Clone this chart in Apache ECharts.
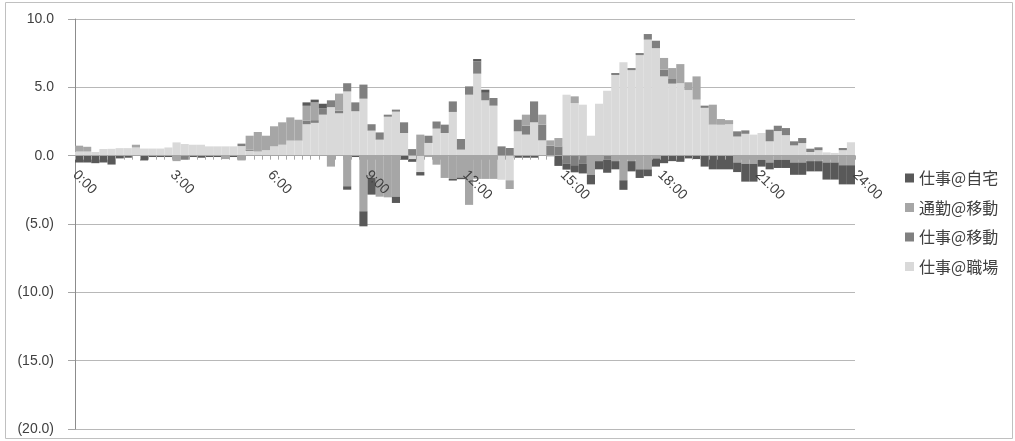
<!DOCTYPE html>
<html><head><meta charset="utf-8">
<script src="https://cdn.jsdelivr.net/npm/echarts@6/dist/echarts.min.js"></script>
<style>html,body{margin:0;padding:0;background:#fff}#c{width:1015px;height:441px}</style>
</head><body><div id="c"></div>
<script>
// 15-minute slots, 0:00 .. 23:45
const categories = [];
for (let h = 0; h < 24; h++) for (let m = 0; m < 60; m += 15) categories.push(h + ':' + String(m).padStart(2, '0'));

const hourTickLabels = ['0:00','3:00','6:00','9:00','12:00','15:00','18:00','21:00','24:00'];
const yTicks = [-20, -15, -10, -5, 0, 5, 10];

const legendOrder = ['仕事@自宅','通勤@移動','仕事@移動','仕事@職場'];

const office = [
 0.3,0.3,0.27,0.49,0.5,0.55,0.55,0.6,0.52,0.52,
 0.52,0.6,0.97,0.85,0.8,0.8,0.68,0.68,0.68,0.68,
 0.7,0.35,0.3,0.4,0.68,0.8,1.1,1.1,2.3,2.4,
 3.0,3.55,3.1,4.7,3.25,4.17,1.83,1.17,2.85,3.22,
 1.66,-0.25,-1.2,0.93,1.98,1.66,3.2,0.44,4.46,6.0,
 4.05,3.66,-1.76,-1.8,1.78,1.54,2.44,1.12,-0.1,0,
 4.46,3.85,3.73,1.46,3.8,4.75,5.9,6.83,6.26,7.36,
 8.49,7.87,5.8,5.27,5.3,4.8,4.1,3.5,2.27,2.26,
 2.3,1.4,1.6,1.54,1.66,1.05,1.8,1.5,0.75,0.92,
 0.27,0.4,0.24,0.2,0.4,0.98];

const mobileWork = [
 0,0,0,0,0,0,0,0,0,0,
 0,0,0,-0.3,0,0,0,0,0,0,
 0.18,0.1,0,0,0,0,0,0,0.25,0.2,
 0.45,0.5,0.2,0.6,0.65,1.03,0.47,0.53,0.15,0.15,
 0.78,0.48,0,0.53,0.52,0.61,0.77,0.78,0.61,0.9,
 0.55,0.56,0.68,0.56,0.85,0.66,1.53,1.15,0.73,0.68,
 -0.6,-0.7,-0.6,0,0,-0.3,0.15,0,0.15,0.15,
 0.41,0.54,0.5,0.34,0,0,0,0.16,0,0,
 0,0.38,0.25,0,0,0.85,0.39,0.52,0.3,0.37,
 0.24,0.21,0,0,0.16,0];

const commute = [
 0.43,0.35,0,0,0,0,0,0.2,0,0,
 0,0,-0.4,0,0,0,0,0,-0.25,0,
 -0.35,1.01,1.43,1.06,1.47,1.64,1.7,1.53,1.1,1.3,
 0,-0.8,1.24,-2.24,0,-4.07,-1.63,-3.0,-3.05,-3.0,
 0,0,1.54,-0.1,-0.66,-1.63,-1.7,-1.6,-3.6,-1.7,
 -1.7,-1.7,0,-0.64,0,0.8,0,0.73,0.39,0.61,
 0,0.49,0,-1.4,-0.4,0,-0.4,-1.8,-0.4,-1.0,
 -1.0,-0.2,0.85,0.8,1.4,0.57,1.7,0,1.46,0.42,
 0.3,-0.5,-0.6,-0.6,-0.3,-0.5,-0.3,-0.3,-0.5,-0.5,
 -0.4,-0.4,-0.5,-0.5,-0.7,-0.7];

const homeWork = [
 -0.5,-0.5,-0.55,-0.5,-0.65,-0.2,-0.15,0,-0.35,-0.1,
 -0.1,-0.1,0,0,-0.1,-0.15,-0.1,-0.1,0,-0.1,
 0,0,0,0,0,0,0,0,0.25,0.2,
 0.35,0,0,-0.25,-0.1,-1.1,-1.22,0,0,-0.46,
 -0.3,-0.2,-0.25,0,0,0,-0.12,-0.12,0,0.17,
 0.23,0,0,0,-0.15,-0.15,-0.15,0,0,-0.75,
 -0.42,-0.52,-0.7,-0.7,-0.6,-0.95,-0.6,-0.7,-0.75,-0.63,
 -0.5,-0.6,-0.55,-0.4,-0.45,-0.2,-0.25,-0.8,-1.0,-1.0,
 -1.0,-0.7,-1.3,-1.3,-0.5,-0.5,-0.6,-0.6,-0.9,-0.9,
 -0.75,-0.75,-1.25,-1.25,-1.4,-1.4];

const W = 1015, H = 441;
const gridTop = 19, gridBottom = 12;
const yMin = yTicks[0], yMax = yTicks[yTicks.length - 1];
const plotH = H - gridTop - gridBottom;
// distance from the bottom of the plot to the zero line (lifts the time axis onto y = 0)
const zeroLift = plotH * (0 - yMin) / (yMax - yMin);

const chart = echarts.init(document.getElementById('c'), null, {renderer: 'canvas', width: W, height: H});
const txt = '#404040';
const fontLatin = 'Liberation Sans, Arial, sans-serif';
const fontCJK = '"Noto Sans CJK JP", sans-serif';

function mkBar(name, data, color) {
  return {
    name, type: 'bar', stack: 'total', data,
    xAxisIndex: 0, yAxisIndex: 0,
    barCategoryGap: '0%',
    itemStyle: {color},
    emphasis: {disabled: true},
    silent: true
  };
}

chart.setOption({
  animation: false,
  backgroundColor: '#ffffff',
  graphic: [{
    type: 'rect', silent: true,
    shape: {x: 5.5, y: 2.5, width: 1007, height: 436},
    style: {fill: 'none', stroke: '#c0c0c0', lineWidth: 1}
  }],
  grid: {left: 75, right: 160, top: gridTop, bottom: gridBottom},
  legend: {
    orient: 'vertical', left: 900, top: 164,
    data: legendOrder,
    icon: 'rect', itemWidth: 9, itemHeight: 9, itemGap: 11.5, itemTextGap: 5,
    textStyle: {fontFamily: fontCJK, fontSize: 16, color: txt, lineHeight: 18},
    selectedMode: false
  },
  xAxis: [{
    type: 'category', data: categories, show: false, boundaryGap: true,
    axisLine: {onZero: false}
  }, {
    type: 'value', min: 0, max: 24, interval: 0.25, position: 'bottom',
    offset: -zeroLift, z: 10,
    axisLine: {show: true, onZero: false, lineStyle: {color: '#a6a6a6', width: 1}},
    axisTick: {show: true, length: 4, lineStyle: {color: '#a6a6a6'}},
    splitLine: {show: false},
    axisLabel: {
      rotate: -45, margin: 17, fontSize: 14, color: txt, fontFamily: fontLatin,
      showMinLabel: true, showMaxLabel: true,
      formatter: function (v) {
        const r = Math.round(v);
        if (Math.abs(v - r) < 1e-9 && r % 3 === 0) return hourTickLabels[r / 3];
        return '';
      }
    }
  }],
  yAxis: {
    type: 'value', min: yMin, max: yMax, interval: 5,
    axisLine: {show: true, onZero: false, lineStyle: {color: '#8c8c8c'}},
    axisTick: {show: true, length: 7, lineStyle: {color: '#a6a6a6'}},
    splitLine: {show: true, lineStyle: {color: '#b8b8b8', width: 1}},
    axisLabel: {
      margin: 21, fontSize: 14, color: txt, fontFamily: fontLatin,
      formatter: v => v < 0 ? '(' + Math.abs(v).toFixed(1) + ')' : v.toFixed(1)
    }
  },
  series: [
    mkBar('仕事@職場', office, '#d9d9d9'),
    mkBar('仕事@移動', mobileWork, '#808080'),
    mkBar('通勤@移動', commute, '#a6a6a6'),
    mkBar('仕事@自宅', homeWork, '#595959')
  ]
});
</script>
</body></html>
